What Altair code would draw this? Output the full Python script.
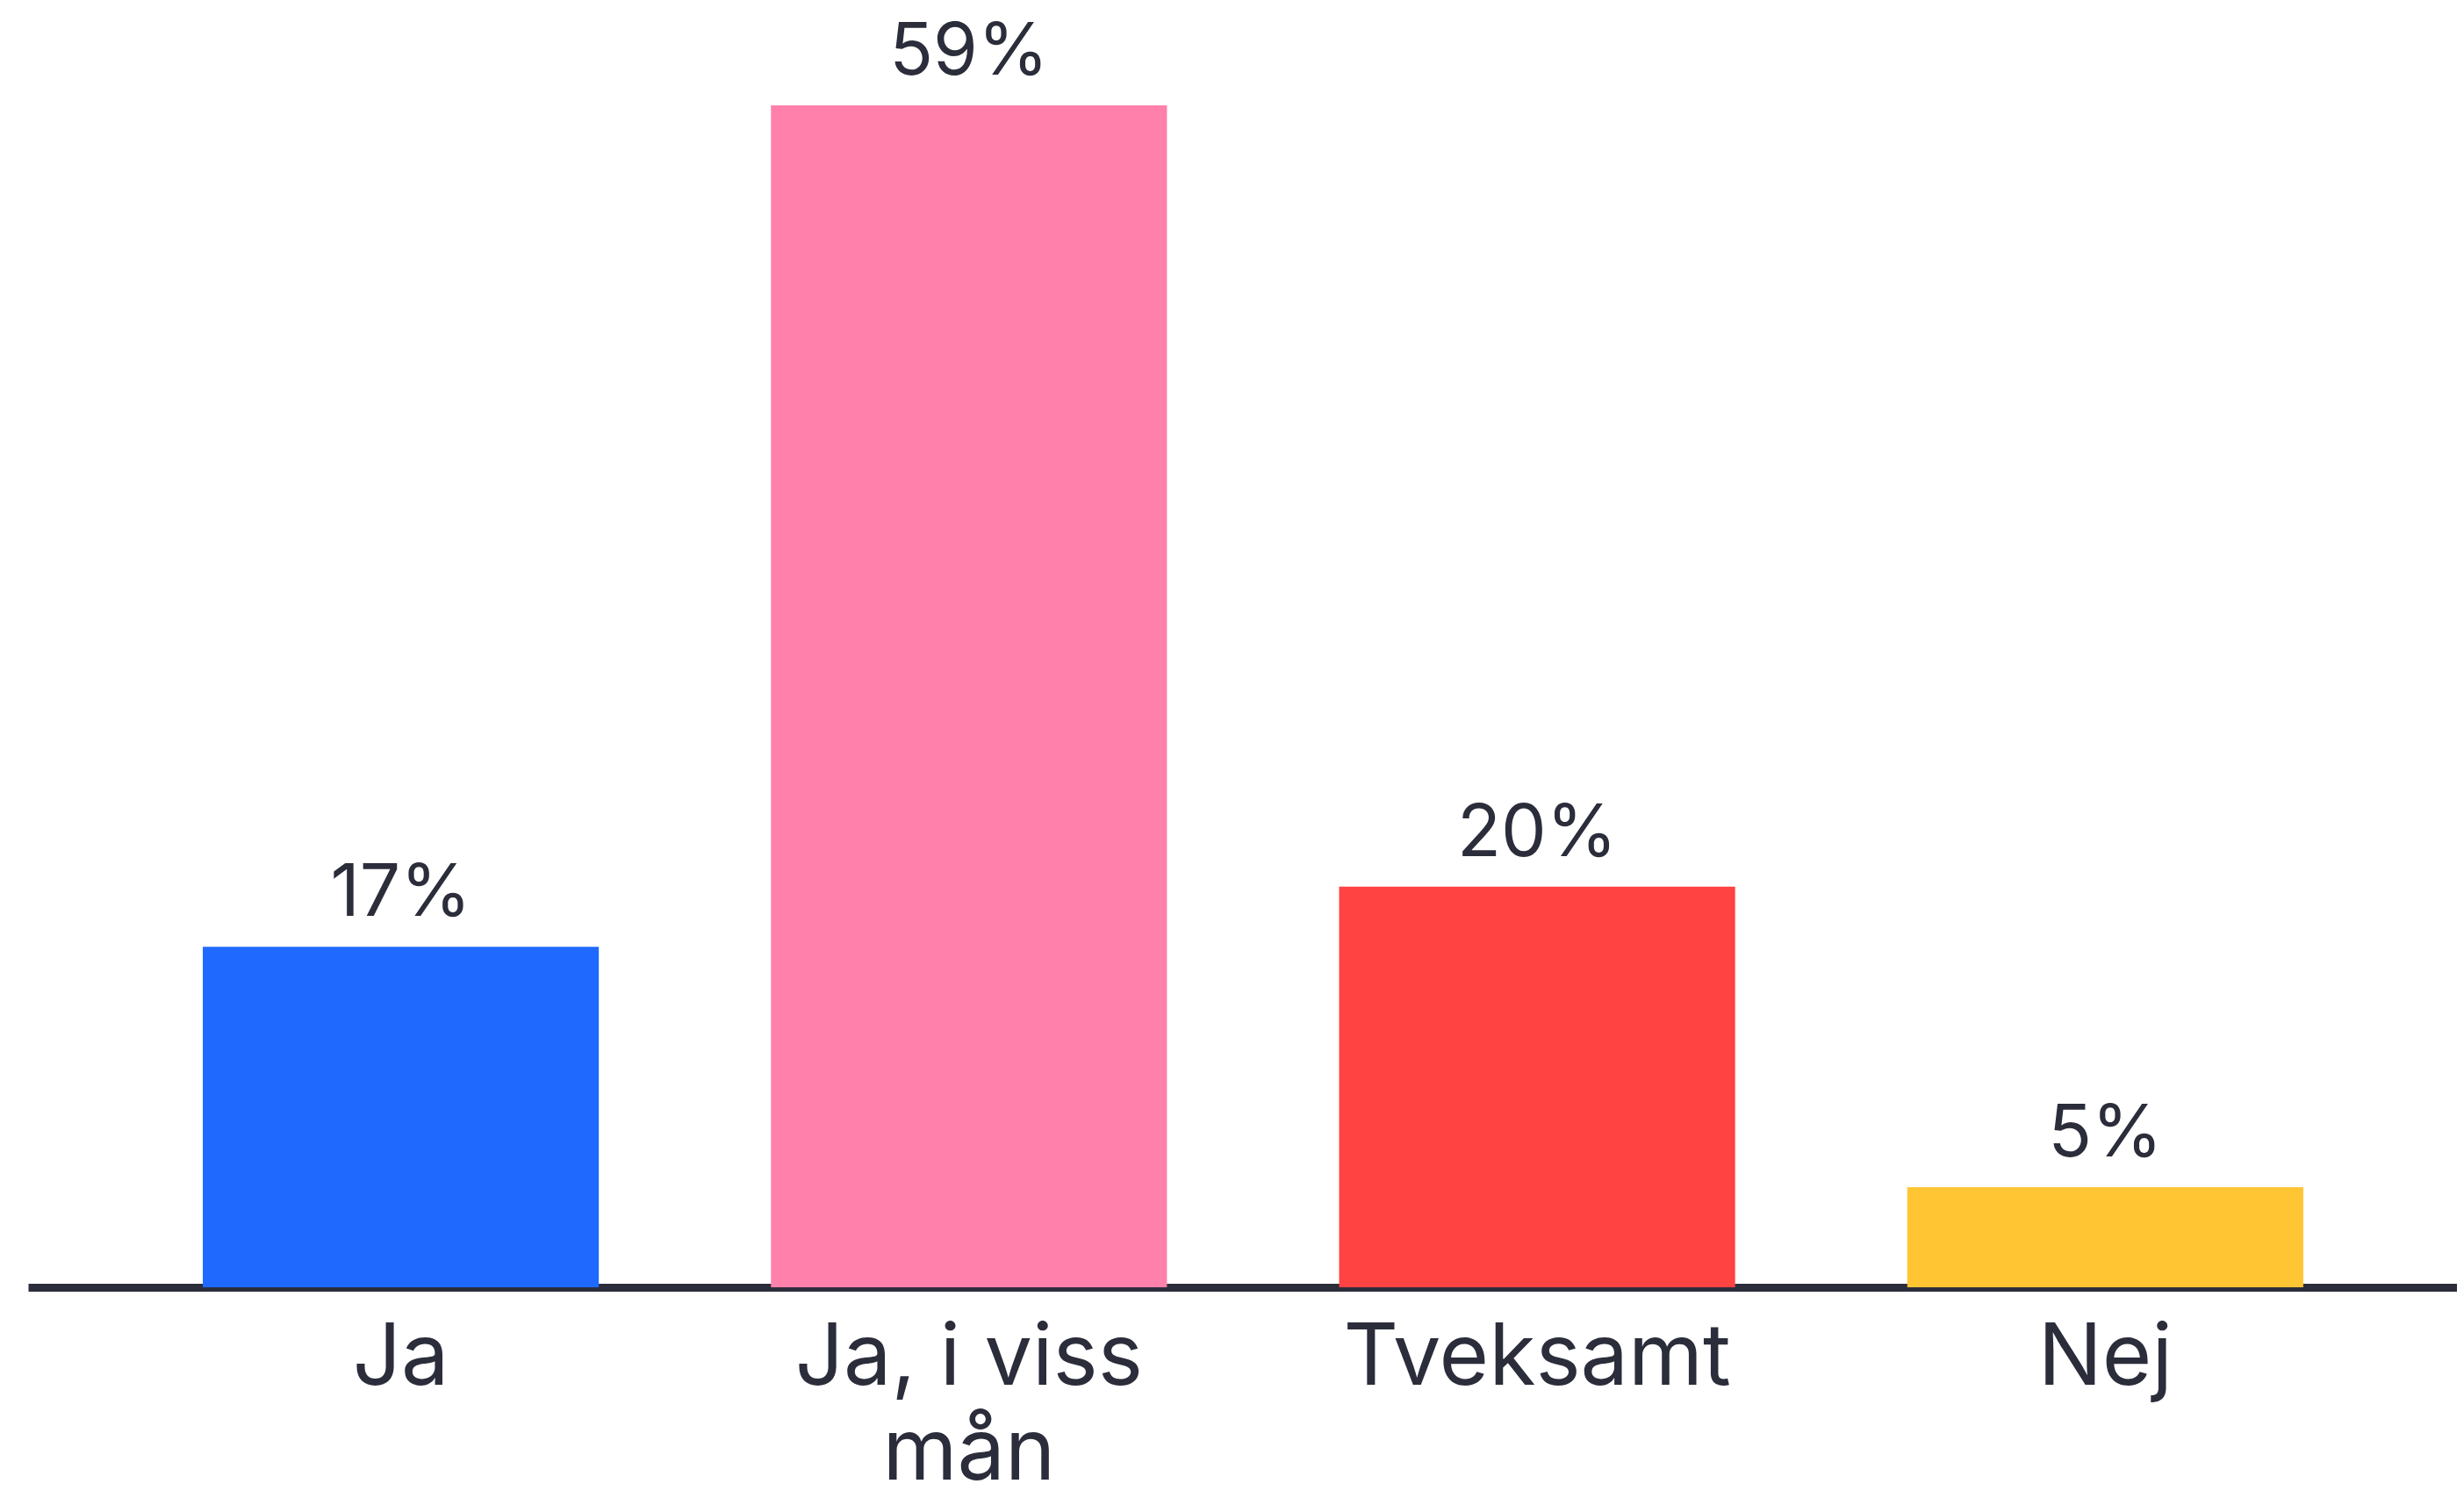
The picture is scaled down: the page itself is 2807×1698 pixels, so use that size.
import altair as alt
import pandas as pd

categories = ["Ja", "Ja, i viss\nmån", "Tveksamt", "Nej"]
values = [17, 59, 20, 5]
colors = ["#1F69FF", "#FF80AB", "#FF4242", "#FFC533"]

TEXT = "#2B2D3B"
FONT = "Inter"

df = pd.DataFrame({"category": categories, "value": values})

x = alt.X(
    "category:N",
    sort=categories,
    title=None,
    scale=alt.Scale(paddingInner=0.303, paddingOuter=0.289, align=0.532),
    axis=alt.Axis(
        labelAngle=0,
        ticks=False,
        domainColor=TEXT,
        domainWidth=9,
        labelFont=FONT,
        labelFontSize=97,
        labelColor=TEXT,
        labelPadding=110,
        labelBaseline="alphabetic",
        labelLineHeight=108,
        labelLimit=0,
        labelOverlap=False,
        labelExpr="split(datum.label, '\\n')",
    ),
)

y = alt.Y("value:Q", scale=alt.Scale(domain=[0, 59], nice=False), axis=None)

bars = alt.Chart(df).mark_bar().encode(
    x=x,
    y=y,
    color=alt.Color(
        "category:N",
        scale=alt.Scale(domain=categories, range=colors),
        legend=None,
    ),
)

labels = alt.Chart(df).transform_calculate(
    txt="datum.value + '%'"
).mark_text(
    dy=-35, baseline="alphabetic", font=FONT, fontSize=82, color=TEXT
).encode(x=x, y=y, text="txt:N")

chart = (
    alt.layer(bars, labels)
    .properties(
        width=2767,
        height=1346,
        autosize=alt.AutoSizeParams(type="none"),
        padding={"left": 24, "top": 112, "right": 0, "bottom": 230},
    )
    .configure(background="white", view=alt.ViewConfig(stroke=None))
)

chart.save("out.html", embed_options={"renderer": "svg", "actions": False})
